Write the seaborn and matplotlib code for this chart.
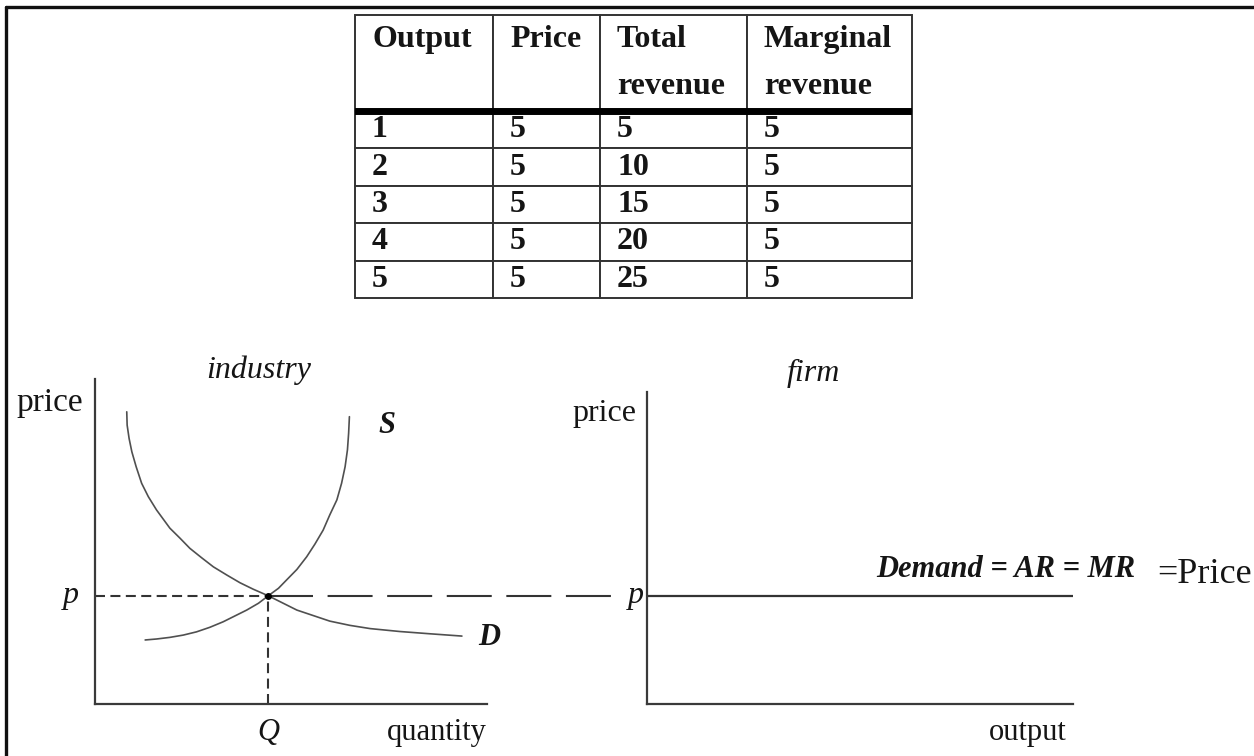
import matplotlib
matplotlib.use("Agg")
import matplotlib.pyplot as plt
from matplotlib.lines import Line2D
import seaborn as sns

# ---- table data ----
outputs = [1, 2, 3, 4, 5]
prices = [5, 5, 5, 5, 5]
total_revenue = [5, 10, 15, 20, 25]
marginal_revenue = [5, 5, 5, 5, 5]
col_labels = ["Output\n ", "Price\n ", "Total\nrevenue", "Marginal\nrevenue"]

# ---- industry diagram (quantity, price) ----
demand_q = [0.81, 0.82, 0.87, 0.94, 1.05, 1.19, 1.36, 1.57, 1.91, 2.17, 2.42, 2.72, 3.02, 3.36,
            3.70, 4.04, 4.42, 5.15, 5.99, 6.50, 7.02, 7.78, 8.55, 9.36]
demand_p = [8.99, 8.58, 8.17, 7.76, 7.30, 6.79, 6.38, 5.97, 5.41, 5.10, 4.79, 4.50, 4.22, 3.97,
            3.73, 3.53, 3.33, 2.89, 2.55, 2.42, 2.32, 2.23, 2.16, 2.09]
supply_q = [1.28, 1.57, 1.91, 2.25, 2.59, 2.93, 3.27, 3.57, 3.87, 4.17, 4.42, 4.68, 4.89, 5.15,
            5.40, 5.61, 5.82, 5.99, 6.17, 6.29, 6.38, 6.44, 6.47, 6.49]
supply_p = [1.97, 2.00, 2.05, 2.12, 2.22, 2.36, 2.53, 2.71, 2.89, 3.10, 3.33, 3.56, 3.82, 4.14,
            4.53, 4.92, 5.35, 5.82, 6.28, 6.79, 7.30, 7.82, 8.33, 8.84]
eq_q = 4.42
eq_p = 3.33

# ---- firm diagram: horizontal demand at market price ----
firm_q = [0, 10]
firm_p = [eq_p, eq_p]

sns.set_style("white")
plt.rcParams["font.family"] = ["Liberation Serif", "DejaVu Serif"]

W, H = 1254, 756
fig = plt.figure(figsize=(W / 100, H / 100), dpi=100)


def px_axes(x0, y0, x1, y1):
    return fig.add_axes([x0 / W, 1 - y1 / H, (x1 - x0) / W, (y1 - y0) / H])


ink = "#151515"
curve_col = "#505050"
axis_col = "#3a3a3a"

# frame lines (top and left only)
fig.add_artist(Line2D([6 / W, 1], [1 - 7 / H, 1 - 7 / H], transform=fig.transFigure, color="#111", lw=2.4))
fig.add_artist(Line2D([6 / W, 6 / W], [0, 1 - 7 / H], transform=fig.transFigure, color="#111", lw=2.4))

# ---- table ----
tax = px_axes(355, 15, 912, 298)
tax.axis("off")
rows = [[str(a), str(b), str(c), str(d)] for a, b, c, d in zip(outputs, prices, total_revenue, marginal_revenue)]
col_w = [138, 107, 147, 165]
tbl = tax.table(cellText=rows, colLabels=col_labels, cellLoc="left", colLoc="left",
                colWidths=[w / sum(col_w) for w in col_w], bbox=[0, 0, 1, 1])
tbl.auto_set_font_size(False)
tbl.set_fontsize(23)
header_h, row_h = 96, 37.4
for (r, c), cell in tbl.get_celld().items():
    cell.set_edgecolor("#333333")
    cell.set_linewidth(1.4)
    cell.PAD = 17 / col_w[c]
    cell.set_height(header_h if r == 0 else row_h)
    txt = cell.get_text()
    txt.set_fontweight("bold")
    txt.set_color(ink)
    if r == 0:
        txt.set_linespacing(1.8)
tax.axhline(1 - header_h / (header_h + 5 * row_h), color="black", lw=5)

# ---- industry panel ----
ax1 = px_axes(95, 379, 487, 704)
ax1.set_xlim(0, 10)
ax1.set_ylim(0, 10)
sns.lineplot(x=demand_q, y=demand_p, sort=False, estimator=None, color=curve_col, lw=1.2, ax=ax1)
sns.lineplot(x=supply_q, y=supply_p, sort=False, estimator=None, color=curve_col, lw=1.2, ax=ax1)
ax1.plot([0, eq_q], [eq_p, eq_p], color="#333", lw=1.5, ls=(0, (4.8, 2.6)))
ax1.plot([eq_q, eq_q], [0, eq_p], color="#333", lw=1.5, ls=(0, (4.8, 2.6)))
ax1.plot([eq_q, 13.27], [eq_p, eq_p], color="#333", lw=1.5, ls=(0, (21.6, 7.0)), clip_on=False)
ax1.plot([eq_q], [eq_p], "o", color="black", ms=4)

ax1.text(-1.15, 9.26, "price", fontsize=24, ha="center", va="center", color=ink)
ax1.text(4.18, 10.28, "industry", fontsize=23, style="italic", ha="center", va="center", color=ink)
ax1.text(7.45, 8.58, "S", fontsize=22, style="italic", weight="bold", ha="center", va="center", color=ink)
ax1.text(10.05, 2.06, "D", fontsize=22, style="italic", weight="bold", ha="center", va="center", color=ink)
ax1.text(-0.61, eq_p, "p", fontsize=23, style="italic", ha="center", va="center", color=ink)
ax1.text(eq_q, -0.89, "Q", fontsize=22, style="italic", ha="center", va="center", color=ink)
ax1.text(10, -0.89, "quantity", fontsize=22, ha="right", va="center", color=ink)

# ---- firm panel ----
ax2 = px_axes(647, 392, 1073, 704)
ax2.set_xlim(0, 10)
ax2.set_ylim(0, 9.6)
sns.lineplot(x=firm_q, y=firm_p, sort=False, estimator=None, color="#333", lw=1.6, ax=ax2)
ax2.text(3.9, 10.18, "firm", fontsize=23, style="italic", ha="center", va="center", color=ink)
ax2.text(-1.0, 8.95, "price", fontsize=23, ha="center", va="center", color=ink)
ax2.text(-0.26, eq_p, "p", fontsize=23, style="italic", ha="center", va="center", color=ink)
ax2.text(9.86, -0.89, "output", fontsize=22, ha="right", va="center", color=ink)
ax2.text(11.46, 3.91, "Demand = AR = MR", fontsize=22, style="italic", weight="bold",
         ha="right", va="baseline", color=ink)
ax2.text(11.97, 3.72, "=Price", fontsize=26, ha="left", va="baseline", color=ink)

for ax in (ax1, ax2):
    ax.set_xticks([])
    ax.set_yticks([])
    ax.set_xlabel("")
    ax.set_ylabel("")
    for side in ("top", "right"):
        ax.spines[side].set_visible(False)
    for side in ("left", "bottom"):
        ax.spines[side].set_color(axis_col)
        ax.spines[side].set_linewidth(1.6)
    ax.patch.set_alpha(0)

fig.savefig("out.png", dpi=100)
